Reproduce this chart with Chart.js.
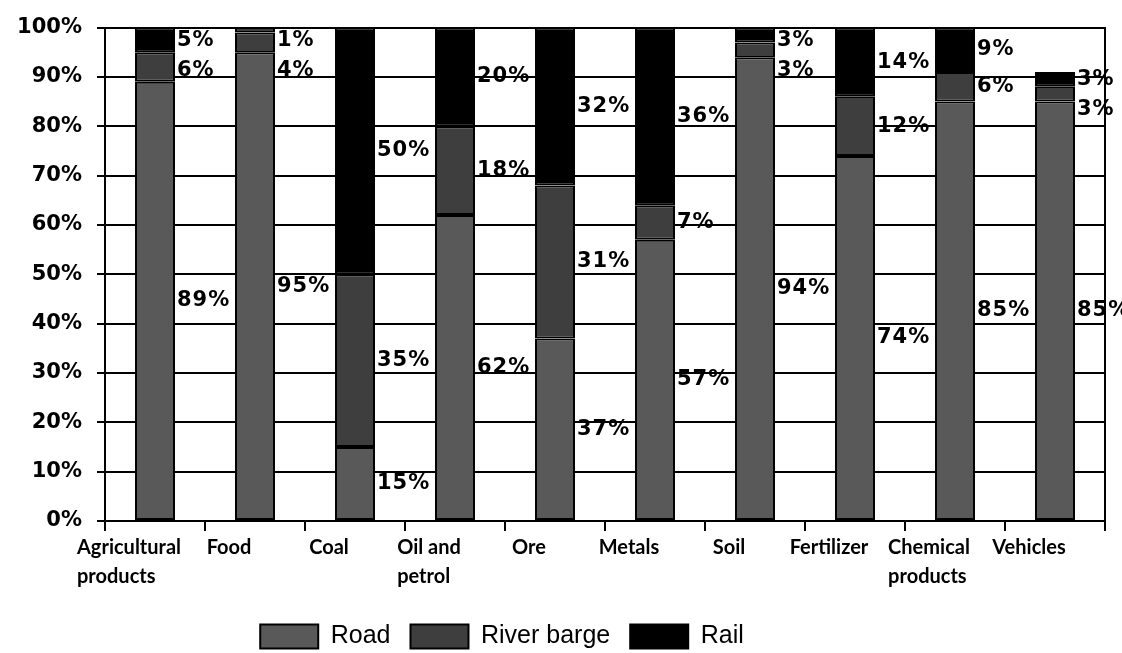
<!DOCTYPE html>
<html>
<head>
<meta charset="utf-8">
<title>Modal split by commodity</title>
<script src="https://cdn.jsdelivr.net/npm/chart.js@4/dist/chart.umd.min.js"></script>
<style>
    html, body { margin: 0; padding: 0; background: #fff; }
    #wrap { width: 1122px; height: 653px; }
</style>
</head>
<body>
<div id="wrap"><canvas id="modalChart"></canvas></div>
<script>
const categories = [
    ['Agricultural', 'products'], 'Food', 'Coal', ['Oil and', 'petrol'], 'Ore',
    'Metals', 'Soil', 'Fertilizer', ['Chemical', 'products'], 'Vehicles'
];
const road = [89, 95, 15, 62, 37, 57, 94, 74, 85, 85];
const riverBarge = [6, 4, 35, 18, 31, 7, 3, 12, 6, 3];
const rail = [5, 1, 50, 20, 32, 36, 3, 14, 9, 3];
const yTicks = [0, 10, 20, 30, 40, 50, 60, 70, 80, 90, 100];

// percentage written just right of each bar segment
const segmentLabels = {
    id: 'segmentLabels',
    afterDatasetsDraw(chart) {
        const ctx = chart.ctx;
        const top = chart.chartArea.top;
        ctx.save();
        ctx.font = 'bold 21px "DejaVu Sans"';
        ctx.letterSpacing = '1px';
        ctx.fillStyle = '#000';
        ctx.textAlign = 'left';
        ctx.textBaseline = 'middle';
        chart.data.labels.forEach((cat, i) => {
            let lastY = -Infinity;
            // walk from the top segment down so labels don't pile up
            for (let d = chart.data.datasets.length - 1; d >= 0; d--) {
                const bar = chart.getDatasetMeta(d).data[i];
                const props = bar.getProps(['x', 'y', 'base', 'width'], true);
                let y = (props.y + props.base) / 2;
                y = Math.max(y, top + 13, lastY + 30);
                lastY = y;
                ctx.fillText(chart.data.datasets[d].data[i] + '%', props.x + props.width / 2 + 2, y);
            }
        });
        ctx.restore();
    }
};

// category names under the axis, lines left-aligned inside a block
// that sits a little left of the category centre
const categoryNames = {
    id: 'categoryNames',
    afterDraw(chart) {
        const ctx = chart.ctx;
        const xScale = chart.scales.x;
        const y0 = chart.chartArea.bottom + 27;
        ctx.save();
        ctx.font = 'bold 20px Lato';
        ctx.fillStyle = '#000';
        ctx.textAlign = 'left';
        ctx.textBaseline = 'middle';
        chart.data.labels.forEach((label, i) => {
            const lines = Array.isArray(label) ? label : [label];
            const w = Math.max(...lines.map(l => ctx.measureText(l).width));
            const left = xScale.getPixelForValue(i) - 26 - w / 2;
            lines.forEach((line, k) => ctx.fillText(line, left, y0 + k * 29));
        });
        ctx.restore();
    }
};

// nudge the legend row left of the page centre and a little lower
const legendShift = {
    id: 'legendShift',
    afterLayout(chart) {
        chart.legend.left -= 59;
        chart.legend.right -= 59;
        chart.legend.top += 6;
        chart.legend.bottom += 6;
    }
};

function buildChart() {
    const ctx = document.getElementById('modalChart').getContext('2d');
    new Chart(ctx, {
        type: 'bar',
        data: {
            labels: categories,
            datasets: [
                { label: 'Road', data: road, backgroundColor: '#595959' },
                { label: 'River barge', data: riverBarge, backgroundColor: '#3e3e3e' },
                { label: 'Rail', data: rail, backgroundColor: '#000000' }
            ].map(ds => Object.assign(ds, {
                borderColor: '#000',
                borderWidth: 2,
                borderSkipped: false,
                categoryPercentage: 1,
                barPercentage: 0.4
            }))
        },
        options: {
            responsive: true,
            maintainAspectRatio: false,
            animation: false,
            layout: { padding: { top: 24, bottom: 0, left: 0, right: 0 } },
            plugins: {
                tooltip: { enabled: false },
                legend: {
                    position: 'bottom',
                    labels: {
                        color: '#000',
                        font: { family: '"Liberation Sans", Arial', size: 25 },
                        boxWidth: 58,
                        boxHeight: 24,
                        padding: 20
                    }
                }
            },
            scales: {
                x: {
                    stacked: true,
                    offset: true,
                    grid: {
                        display: true,
                        offset: true,
                        drawOnChartArea: false,
                        color: '#000',
                        lineWidth: 2,
                        tickLength: 10
                    },
                    border: { color: '#000', width: 2 },
                    ticks: { display: false },
                    afterFit(scale) { scale.height = 77; }
                },
                y: {
                    stacked: true,
                    min: 0,
                    max: 100,
                    afterBuildTicks(scale) {
                        scale.ticks = yTicks.map(v => ({ value: v }));
                    },
                    grid: { color: '#000', lineWidth: 2, tickLength: 8 },
                    border: { color: '#000', width: 2 },
                    ticks: {
                        color: '#000',
                        font: { family: '"DejaVu Sans"', weight: 'bold', size: 21 },
                        padding: 15,
                        callback: v => v + '%'
                    },
                    afterFit(scale) { scale.width = 105; }
                },
                frame: {
                    type: 'linear',
                    position: 'right',
                    min: 0,
                    max: 100,
                    grid: { display: false },
                    border: { color: '#000', width: 2 },
                    ticks: { display: false },
                    afterFit(scale) { scale.width = 17; }
                }
            }
        },
        plugins: [segmentLabels, categoryNames, legendShift]
    });
}

buildChart();
</script>
</body>
</html>
